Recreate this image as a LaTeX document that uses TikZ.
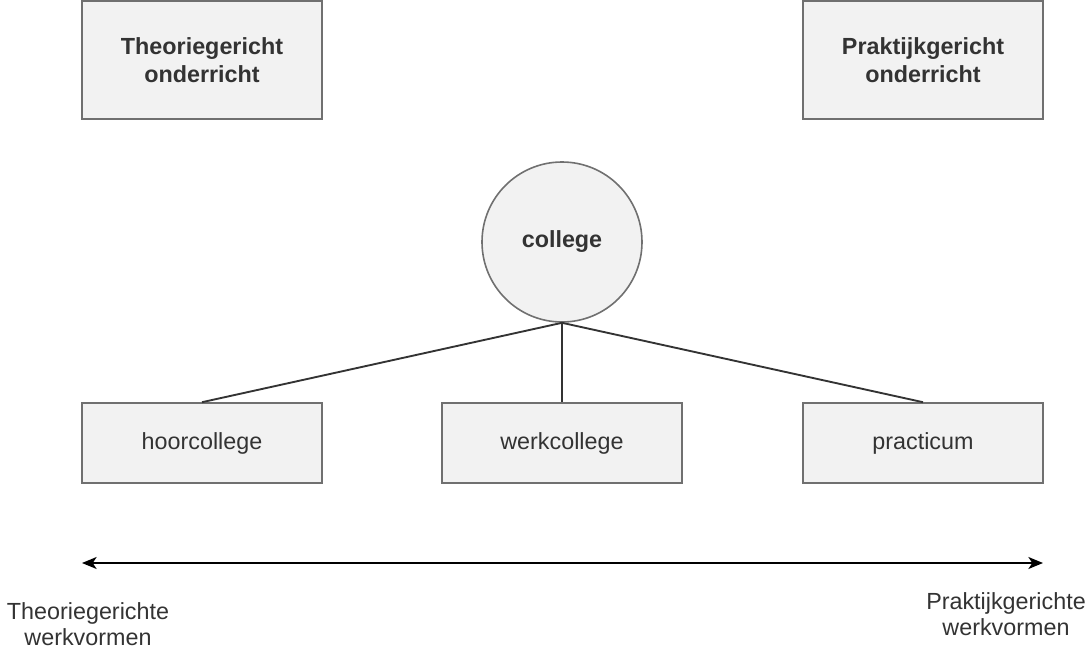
\documentclass[tikz,border=0pt]{standalone}
\usepackage{fontspec}
\setmainfont{Liberation Sans}
\usetikzlibrary{arrows.meta}
\definecolor{vakvulling}{HTML}{F2F2F2}
\definecolor{vaklijn}{HTML}{707070}
\definecolor{tekst}{HTML}{333333}

\begin{document}
\begin{tikzpicture}[x=0.75pt,y=-0.75pt,
	vak/.style={draw=vaklijn,fill=vakvulling,line width=1.2pt,minimum width=180pt,minimum height=60pt,inner sep=0pt,text=tekst,align=center,font=\fontsize{17.5}{21.5}\selectfont},
	bol/.style={circle,draw=vaklijn,fill=vakvulling,line width=1.2pt,minimum size=120pt,inner sep=0pt,text=tekst,font=\fontsize{17.5}{21.5}\selectfont\bfseries},
	tak/.style={draw=tekst,line width=1.4pt},
	label/.style={text=tekst,align=center,font=\fontsize{17.5}{20}\selectfont}]
		\useasboundingbox (0,0) rectangle (1086,653);
		%Top
		\node[vak,minimum height=88.5pt,font=\fontsize{17.5}{21.5}\selectfont\bfseries] (theorie) at (202,60) {Theoriegericht\\onderricht};
		\node[vak,minimum height=88.5pt,font=\fontsize{17.5}{21.5}\selectfont\bfseries] (praktijk) at (923,60) {Praktijkgericht\\onderricht};
		%Middle
		\node[bol] (college) at (562,242) {college};
		%Bottom
		\node[vak] (hoor) at (202,443) {hoorcollege};
		\node[vak] (werk) at (562,443) {werkcollege};
		\node[vak] (prac) at (923,443) {practicum};
		\draw[tak] (college.south)--(hoor.north);
		\draw[tak] (college.south)--(werk.north);
		\draw[tak] (college.south)--(prac.north);
		%Axis
		\coordinate (links) at (82,563);
		\coordinate (rechts) at (1043,563);
		\draw[line width=1.3pt,{Stealth[length=11pt,width=9pt,inset=3pt]}-{Stealth[length=11pt,width=9pt,inset=3pt]}] (links)--(rechts);
		\node[label] (theorievorm) at (88,624) {Theoriegerichte\\werkvormen};
		\node[label] (praktijkvorm) at (1006,614) {Praktijkgerichte\\werkvormen};
		
\end{tikzpicture}
\end{document}
